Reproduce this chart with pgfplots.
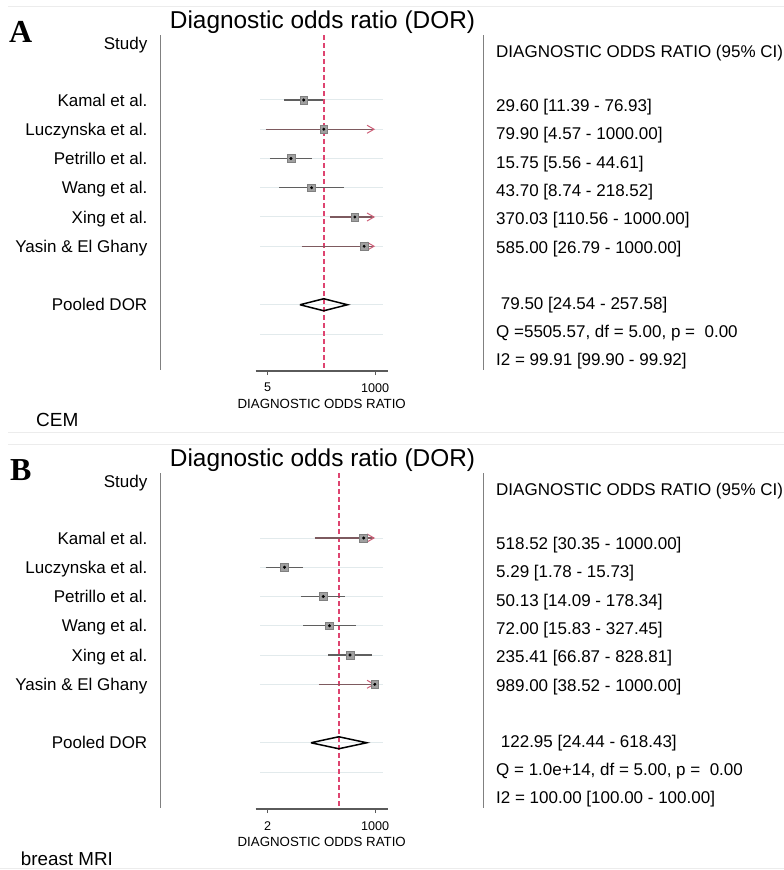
\documentclass[border=0pt]{standalone}
\usepackage{fontspec}
\setmainfont{Liberation Sans}
\newfontfamily\timesfont{Liberation Serif}
\usepackage{pgfplots}
\usepackage{pgfplotstable}
\pgfplotsset{compat=1.18}
\usetikzlibrary{arrows.meta}

\definecolor{refred}{RGB}{222,68,112}
\definecolor{ciline}{RGB}{95,95,95}
\definecolor{trunc}{RGB}{125,90,95}
\definecolor{arrowc}{RGB}{205,95,120}
\definecolor{rowline}{RGB}{226,234,236}
\definecolor{framec}{RGB}{128,128,128}
\definecolor{axisc}{RGB}{90,90,90}
\definecolor{sqfill}{RGB}{160,160,160}
\definecolor{sepc}{RGB}{236,236,236}

\newcommand{\lab}{\fontsize{17bp}{20bp}\selectfont}

% Panel A (CEM): estimate, lower, upper, row (negative row index)
\pgfplotstableread{
dor lo hi row
29.60 11.39 76.93 -2
79.90 4.57 1000 -3
15.75 5.56 44.61 -4
43.70 8.74 218.52 -5
370.03 110.56 1000 -6
585.00 26.79 1000 -7
}\dataA
% Panel B (breast MRI)
\pgfplotstableread{
dor lo hi row
518.52 30.35 1000 -2
5.29 1.78 15.73 -3
50.13 14.09 178.34 -4
72.00 15.83 327.45 -5
235.41 66.87 828.81 -6
989.00 38.52 1000 -7
}\dataB

\tikzset{
  ci/.style={draw=ciline, line width=1.2bp},
  tci/.style={draw=trunc, line width=1.2bp, -{Straight Barb[length=7bp,width=8bp,color=arrowc,line width=1bp]}},
  rl/.style={draw=rowline, line width=1bp},
  est/.style={only marks, mark=square*, mark size=3.9bp, mark options={fill=sqfill, draw=sqfill!80!black, line width=0.6bp, solid}},
  dotm/.style={only marks, mark=*, mark size=1.3bp, mark options={fill=black, draw=black, solid}},
  diam/.style={draw=black, line width=1.5bp},
}

\pgfplotsset{every axis/.append style={
  scale only axis, width=132bp, height=336bp,
  ymin=-11.265, ymax=0.222,
  axis x line*=bottom, axis y line=none,
  x axis line style={-, draw=axisc, line width=1.3bp},
  tick align=outside, major tick length=4bp, xminorticks=false,
  xtick style={draw=axisc, line width=1bp},
  xticklabel style={font=\fontsize{12.6bp}{14bp}\selectfont, text=black, yshift=-4.7bp},
  xlabel style={font=\fontsize{13.3bp}{15bp}\selectfont, yshift=-0.3bp},
  xlabel={DIAGNOSTIC ODDS RATIO},
  clip=false, anchor=south west,
  /pgf/number format/assume math mode=true,
}}

\newcommand{\commontext}[1]{%
  \begin{scope}[x=1bp,y=-1bp,yshift=-#1bp]
    \node[anchor=base, inner sep=0, font=\fontsize{24.4bp}{27bp}\selectfont] at (322.5,28) {Diagnostic odds ratio (DOR)};
    \draw[framec, line width=1.5bp] (160.7,35) -- (160.7,370);
    \draw[framec, line width=1.5bp] (483.3,35) -- (483.3,370);
    \begin{scope}[every node/.style={anchor=base east, inner sep=0, font=\lab}]
      \node at (147.5,49) {Study};
      \node at (147.5,106) {Kamal et al.};
      \node at (147.5,135.25) {Luczynska et al.};
      \node at (147.5,164.5) {Petrillo et al.};
      \node at (147.5,193.75) {Wang et al.};
      \node at (147.5,223) {Xing et al.};
      \node at (147.5,252.25) {Yasin \& El Ghany};
      \node at (147.5,310.75) {Pooled DOR};
    \end{scope}
    \node[anchor=base west, inner sep=0, font=\lab] at (496,57) {DIAGNOSTIC ODDS RATIO (95\% CI)};
  \end{scope}}

\newcommand{\righttext}[9]{%
  \begin{scope}[every node/.style={anchor=base west, inner sep=0, font=\lab}]
    \node at (496,111.5) {#1};
    \node at (496,139.9) {#2};
    \node at (496,168.3) {#3};
    \node at (496,196.6) {#4};
    \node at (496,224.8) {#5};
    \node at (496,253) {#6};
    \node at (500.7,309.4) {#7};
    \node at (496,337.6) {#8};
    \node at (496,365.8) {#9};
  \end{scope}}

\begin{document}
\begin{tikzpicture}
\path[use as bounding box] (0,0) rectangle (784bp,-870bp);

% separator lines
\begin{scope}[x=1bp,y=-1bp]
  \draw[sepc, line width=1bp] (8,6.7) -- (784,6.7);
  \draw[sepc, line width=1bp] (8,432) -- (784,432);
  \draw[sepc, line width=1bp] (8,444) -- (784,444);
  \draw[sepc, line width=1bp] (0,868) -- (784,868);
  \node[anchor=base west, inner sep=0, font=\timesfont\bfseries\fontsize{32bp}{34bp}\selectfont] at (9,42.7) {A};
  \node[anchor=base west, inner sep=0, font=\timesfont\bfseries\fontsize{32bp}{34bp}\selectfont] at (10,480.7) {B};
  \node[anchor=base west, inner sep=0, font=\fontsize{19bp}{22bp}\selectfont] at (36,426.7) {CEM};
  \node[anchor=base west, inner sep=0, font=\fontsize{18.8bp}{22bp}\selectfont] at (20.7,865) {breast MRI};
\end{scope}

\commontext{0}
\commontext{438}

\begin{scope}[x=1bp,y=-1bp]
\righttext{29.60 [11.39 - 76.93]}{79.90 [4.57 - 1000.00]}{15.75 [5.56 - 44.61]}{43.70 [8.74 - 218.52]}{370.03 [110.56 - 1000.00]}{585.00 [26.79 - 1000.00]}{79.50 [24.54 - 257.58]}{Q =5505.57, df = 5.00, p = \ 0.00}{I2 = 99.91 [99.90 - 99.92]}
\end{scope}
\begin{scope}[x=1bp,y=-1bp,yshift=-438bp]
\righttext{518.52 [30.35 - 1000.00]}{5.29 [1.78 - 15.73]}{50.13 [14.09 - 178.34]}{72.00 [15.83 - 327.45]}{235.41 [66.87 - 828.81]}{989.00 [38.52 - 1000.00]}{122.95 [24.44 - 618.43]}{Q = 1.0e+14, df = 5.00, p = \ 0.00}{I2 = 100.00 [100.00 - 100.00]}
\end{scope}

% ---------------- Panel A ----------------
\begin{axis}[xmode=log, at={(255.7bp,-371bp)}, xmin=2.765, xmax=1871, xtick={5,1000}, xticklabels={5,1000}]
  \addplot[rl] coordinates {(3.42,-2) (1462,-2)};
  \addplot[rl] coordinates {(3.42,-3) (1462,-3)};
  \addplot[rl] coordinates {(3.42,-4) (1462,-4)};
  \addplot[rl] coordinates {(3.42,-5) (1462,-5)};
  \addplot[rl] coordinates {(3.42,-6) (1462,-6)};
  \addplot[rl] coordinates {(3.42,-7) (1462,-7)};
  \addplot[rl] coordinates {(3.42,-9) (1462,-9)};
  \addplot[rl] coordinates {(3.42,-10) (1462,-10)};
  \addplot[draw=refred, color=refred, line width=1.6bp, dash pattern=on 5bp off 3bp] coordinates {(79.50,0.222) (79.50,-11.265)};
  \addplot[ci] coordinates {(11.39,-2) (76.93,-2)};
  \addplot[tci] coordinates {(4.57,-3) (1000,-3)};
  \addplot[ci] coordinates {(5.56,-4) (44.61,-4)};
  \addplot[ci] coordinates {(8.74,-5) (218.52,-5)};
  \addplot[tci] coordinates {(110.56,-6) (1000,-6)};
  \addplot[tci] coordinates {(26.79,-7) (1000,-7)};
  \addplot[est] table[x=dor,y=row] {\dataA};
  \addplot[dotm] table[x=dor,y=row] {\dataA};
  \addplot[diam] coordinates {(24.54,-9) (79.50,-8.795) (257.58,-9) (79.50,-9.205) (24.54,-9)};
\end{axis}

% ---------------- Panel B ----------------
\begin{axis}[xmode=log, at={(255.7bp,-809bp)}, xmin=1.0, xmax=2085, xtick={2,1000}, xticklabels={2,1000}]
  \addplot[rl] coordinates {(1.28,-2) (1563,-2)};
  \addplot[rl] coordinates {(1.28,-3) (1563,-3)};
  \addplot[rl] coordinates {(1.28,-4) (1563,-4)};
  \addplot[rl] coordinates {(1.28,-5) (1563,-5)};
  \addplot[rl] coordinates {(1.28,-6) (1563,-6)};
  \addplot[rl] coordinates {(1.28,-7) (1563,-7)};
  \addplot[rl] coordinates {(1.28,-9) (1563,-9)};
  \addplot[rl] coordinates {(1.28,-10) (1563,-10)};
  \addplot[draw=refred, color=refred, line width=1.6bp, dash pattern=on 5bp off 3bp] coordinates {(122.95,0.222) (122.95,-11.265)};
  \addplot[tci] coordinates {(30.35,-2) (1000,-2)};
  \addplot[ci] coordinates {(1.78,-3) (15.73,-3)};
  \addplot[ci] coordinates {(14.09,-4) (178.34,-4)};
  \addplot[ci] coordinates {(15.83,-5) (327.45,-5)};
  \addplot[ci] coordinates {(66.87,-6) (828.81,-6)};
  \addplot[tci] coordinates {(38.52,-7) (1000,-7)};
  \addplot[est] table[x=dor,y=row] {\dataB};
  \addplot[dotm] table[x=dor,y=row] {\dataB};
  \addplot[diam] coordinates {(24.44,-9) (122.95,-8.795) (618.43,-9) (122.95,-9.205) (24.44,-9)};
\end{axis}
\end{tikzpicture}
\end{document}
